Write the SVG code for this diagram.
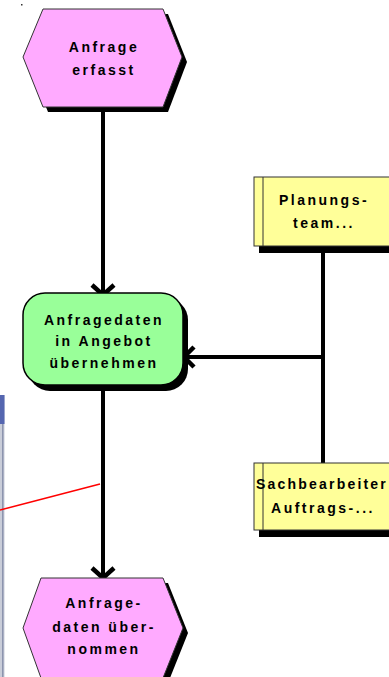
<svg xmlns="http://www.w3.org/2000/svg" width="389" height="677" viewBox="0 0 389 677">
<style>
.t{font-family:"Liberation Sans",Arial,sans-serif;font-weight:bold;font-size:14px;letter-spacing:2.5px;text-anchor:middle;fill:#000}
.ev{fill:#ffaaff;stroke:#333;stroke-width:1}
.fn{fill:#99ff99;stroke:#000;stroke-width:1.5}
.org{fill:#ffff99;stroke:#333;stroke-width:1}
.sh{fill:#000}
.ln{stroke:#000;stroke-width:4;fill:none}
.ah{stroke:#000;stroke-width:4.5;fill:none;stroke-linejoin:miter}
</style>
<rect width="389" height="677" fill="#fff"/>
<rect x="21" y="4" width="1.5" height="1.5" fill="#333"/>
<g id="sidebar">
<rect x="0" y="395" width="4.5" height="282" fill="#c9cdd9"/>
<rect x="2" y="423" width="1.5" height="254" fill="#8c94ae"/>
<rect x="0" y="395" width="4.5" height="29" fill="#5566b0"/>
</g>
<g id="connectors">
<line class="ln" x1="103" y1="107" x2="103" y2="294"/>
<polyline class="ah" points="92,285 103,295 114,285"/>
<line class="ln" x1="103" y1="385" x2="103" y2="578"/>
<polyline class="ah" points="92,568 103,578 114,568"/>
<line class="ln" x1="323" y1="246" x2="323" y2="463"/>
<line class="ln" x1="186" y1="357" x2="323" y2="357"/>
<polyline class="ah" points="194,347 184,357 194,367"/>
</g>
<g id="anfrage-erfasst">
<polygon class="sh" points="48,14 168,14 187,62 168,112 48,112 28,62"/>
<polygon class="ev" points="43,9 163,9 182,57 163,107 43,107 23,57"/>
<text class="t" x="104" y="52">Anfrage</text>
<text class="t" x="104" y="75">erfasst</text>
</g>
<g id="anfragedaten-uebernehmen">
<rect class="sh" x="28" y="298" width="160" height="93" rx="22"/>
<rect class="fn" x="23" y="293" width="160" height="92" rx="22"/>
<text class="t" x="104" y="325">Anfragedaten</text>
<text class="t" x="104" y="346">in Angebot</text>
<text class="t" x="104" y="368">übernehmen</text>
</g>
<g id="planungsteam">
<rect class="sh" x="259" y="182" width="140" height="71"/>
<rect class="org" x="254" y="177" width="140" height="69"/>
<line x1="263" y1="177" x2="263" y2="246" stroke="#333" stroke-width="1"/>
<text class="t" x="324" y="205">Planungs-</text>
<text class="t" x="324" y="228">team...</text>
</g>
<g id="sachbearbeiter">
<rect class="sh" x="259" y="468" width="140" height="69"/>
<rect class="org" x="254" y="463" width="140" height="67"/>
<line x1="263" y1="463" x2="263" y2="530" stroke="#333" stroke-width="1"/>
<text class="t" x="322" y="489" style="letter-spacing:2.2px">Sachbearbeiter</text>
<text class="t" x="323" y="513">Auftrags-...</text>
</g>
<g id="anfragedaten-uebernommen">
<polygon class="sh" points="46,583 168,583 188,633 168,683 46,683 28,633"/>
<polygon class="ev" points="41,578 163,578 183,628 163,678 41,678 23,628"/>
<text class="t" x="104" y="608">Anfrage-</text>
<text class="t" x="104" y="632">daten über-</text>
<text class="t" x="104" y="654">nommen</text>
</g>
<line x1="0" y1="510" x2="100" y2="484" stroke="#ff0000" stroke-width="1.6"/>
</svg>
